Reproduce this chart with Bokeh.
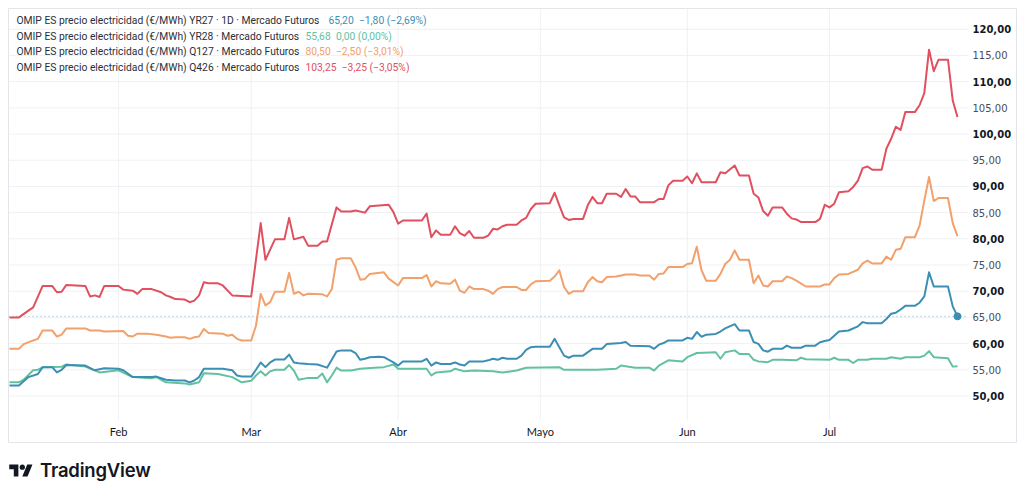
import pandas as pd
from bokeh.plotting import figure
from bokeh.models import Range1d, Label, Div
from bokeh.core.properties import value
from bokeh.layouts import column
from bokeh.embed import file_html
from bokeh.resources import INLINE

YEAR = "2026"

# ---------------- data ----------------
q426_dates = ["01-09","01-11","01-13","01-14","01-16","01-18","01-19","01-20","01-21","01-25","01-26","01-27","01-28","01-29",
              "02-01","02-02","02-04","02-05","02-06","02-08","02-10","02-11","02-12","02-13","02-15","02-16","02-17","02-18","02-19","02-20","02-22","02-23","02-25",
              "03-01","03-03","03-04","03-06","03-08","03-09","03-10","03-12","03-13","03-15","03-16","03-17","03-19","03-20","03-22","03-23","03-25","03-26","03-30","03-31",
              "04-01","04-02","04-06","04-07","04-08","04-09","04-10","04-12","04-13","04-14","04-15","04-16","04-17","04-19","04-20","04-21","04-22","04-23","04-24","04-26","04-27","04-28","04-29","04-30",
              "05-03","05-04","05-05","05-06","05-07","05-08","05-10","05-11","05-12","05-13","05-14","05-15","05-17","05-18","05-19","05-20","05-21","05-22","05-25","05-26","05-27","05-28","05-29","05-31",
              "06-01","06-02","06-03","06-04","06-07","06-08","06-09","06-11","06-12","06-14","06-15","06-16","06-17","06-18","06-19","06-21","06-22","06-23","06-24","06-25","06-28","06-29","06-30",
              "07-01","07-02","07-03","07-05","07-06","07-07","07-08","07-09","07-10","07-12","07-13","07-14","07-15","07-16","07-17","07-19","07-20","07-21","07-22","07-23","07-24","07-26","07-27","07-28"]
q426_values = [65.0,65.0,66.3,66.9,71.0,71.0,69.8,69.9,71.2,71.0,69.0,69.2,68.9,71.0,
               71.0,70.3,70.1,69.5,70.4,70.4,69.8,69.2,68.9,68.5,68.4,67.9,68.2,69.2,71.7,71.5,71.5,71.1,69.2,
               69.0,83.0,76.0,79.9,79.9,84.0,79.9,80.4,78.7,78.7,79.5,79.5,86.0,85.2,85.2,85.4,85.0,86.2,86.5,85.1,
               82.9,83.5,83.5,84.8,80.3,81.6,80.8,80.8,82.4,81.1,80.6,81.5,80.2,80.2,80.6,81.9,81.8,82.4,82.7,82.7,83.5,84.0,85.7,86.7,
               86.8,88.8,86.4,84.1,83.6,83.8,83.8,86.4,88.0,86.8,86.8,88.6,88.6,88.0,89.5,88.1,88.1,87.0,87.0,87.6,87.6,90.2,91.1,91.1,
               91.9,90.6,92.5,90.8,90.8,92.7,92.5,94.0,92.1,92.1,88.6,87.9,85.3,84.4,86.0,86.0,84.8,83.9,83.7,83.2,83.2,83.8,86.5,
               86.0,86.7,88.9,89.1,89.9,91.1,93.5,93.8,93.2,93.2,97.2,99.1,101.4,100.8,104.2,104.2,105.5,107.8,116.1,112.0,114.2,114.2,106.4,103.25]

q127_dates = ["01-09","01-11","01-12","01-14","01-15","01-16","01-18","01-19","01-20","01-21","01-25","01-26","01-28","01-29",
              "02-02","02-03","02-04","02-05","02-07","02-09","02-11","02-12","02-13","02-15","02-16","02-17","02-18","02-19","02-20","02-23","02-24","02-25","02-26","02-27",
              "03-01","03-02","03-03","03-04","03-05","03-06","03-08","03-09","03-10","03-11","03-12","03-13","03-16","03-17","03-18","03-19","03-20","03-22","03-23","03-24","03-25","03-26","03-29","03-30",
              "04-01","04-02","04-06","04-07","04-08","04-09","04-10","04-12","04-13","04-14","04-15","04-16","04-17","04-19","04-20","04-21","04-22","04-23","04-26","04-27","04-28","04-29","04-30",
              "05-03","05-04","05-05","05-06","05-07","05-08","05-10","05-11","05-12","05-13","05-14","05-15","05-17","05-18","05-19","05-21","05-22","05-24","05-25","05-26","05-27","05-28","05-31",
              "06-01","06-02","06-03","06-04","06-05","06-07","06-08","06-09","06-10","06-11","06-12","06-14","06-15","06-16","06-17","06-18","06-19","06-21","06-22","06-23","06-24","06-26","06-29","06-30",
              "07-01","07-02","07-03","07-05","07-07","07-08","07-09","07-10","07-12","07-13","07-14","07-15","07-16","07-17","07-19","07-20","07-21","07-22","07-23","07-24","07-26","07-27","07-28"]
q127_values = [59.0,59.0,59.9,60.6,60.9,62.5,62.5,61.35,61.7,62.9,62.9,62.5,62.5,62.3,
               62.4,61.5,61.35,61.9,61.9,61.7,61.35,61.1,61.2,61.2,60.9,61.2,61.35,62.8,62.0,61.9,61.5,61.7,60.9,60.6,
               60.6,63.4,69.5,67.3,67.9,69.9,69.9,73.5,69.5,69.9,69.2,69.5,69.4,69.0,70.4,76.0,76.3,76.3,74.6,72.2,72.35,73.3,73.6,72.4,
               71.1,72.5,72.5,73.1,70.9,71.9,71.5,71.4,72.2,70.1,69.7,70.9,70.4,70.4,70.1,69.5,70.4,70.8,70.8,70.25,70.25,71.3,71.9,
               72.0,72.8,74.0,70.8,69.5,70.0,70.0,71.7,72.7,71.9,71.7,72.7,72.8,73.0,73.2,73.2,73.0,73.0,72.2,73.3,73.4,74.6,74.6,
               75.2,75.35,78.5,74.0,72.0,72.0,73.3,75.2,76.0,77.8,76.0,76.0,71.5,73.0,71.1,70.9,71.9,71.9,72.8,72.5,72.0,70.9,70.9,71.3,
               71.3,72.5,73.2,73.3,74.1,75.3,75.85,75.3,75.3,76.6,76.0,77.9,78.1,80.3,80.3,82.5,87.3,91.8,87.2,87.8,87.8,83.0,80.5]

yr27_dates = ["01-09","01-11","01-13","01-15","01-16","01-18","01-19","01-20","01-21","01-25","01-27","01-29",
              "02-01","02-02","02-04","02-08","02-09","02-11","02-13","02-15","02-16","02-17","02-18","02-19","02-23","02-25","02-26","02-27",
              "03-01","03-02","03-03","03-04","03-05","03-06","03-08","03-09","03-10","03-11","03-13","03-15","03-17","03-18","03-19","03-20","03-22","03-23","03-24","03-25","03-26","03-28","03-29","03-31",
              "04-01","04-02","04-06","04-07","04-08","04-09","04-10","04-12","04-13","04-14","04-15","04-16","04-19","04-20","04-21","04-22","04-23","04-24","04-26","04-27","04-28","04-29","04-30",
              "05-03","05-04","05-05","05-06","05-07","05-08","05-10","05-12","05-14","05-15","05-18","05-19","05-20","05-24","05-25","05-26","05-27","05-28","05-31",
              "06-01","06-02","06-03","06-04","06-05","06-07","06-08","06-09","06-11","06-12","06-14","06-15","06-16","06-17","06-18","06-19","06-21","06-22","06-23","06-25","06-26","06-28","06-29","06-30",
              "07-01","07-03","07-05","07-07","07-08","07-09","07-12","07-13","07-14","07-15","07-16","07-17","07-19","07-20","07-21","07-22","07-23","07-26","07-27","07-28"]
yr27_values = [52.0,52.0,53.6,54.2,55.5,55.5,54.5,55.0,55.9,55.8,54.9,55.3,
               55.2,54.9,53.6,53.6,53.7,53.1,52.95,52.95,52.6,52.95,53.6,55.2,55.2,54.9,53.9,53.7,
               53.7,55.0,56.4,55.5,56.4,56.95,56.95,57.9,56.4,56.25,56.1,56.0,55.4,56.9,58.5,58.7,58.7,58.2,56.9,57.1,57.4,57.5,57.4,56.4,
               55.8,56.6,56.6,57.1,55.8,56.4,56.1,56.1,56.4,56.0,55.8,56.6,56.6,56.8,57.1,56.9,57.3,57.1,57.1,57.7,58.8,59.3,59.4,
               59.4,60.9,59.3,57.7,57.3,57.7,57.7,59.0,59.0,59.9,60.1,60.3,59.6,59.5,59.0,59.8,60.1,60.6,60.6,
               61.1,60.9,62.2,61.3,61.7,61.85,62.3,62.9,63.7,62.5,62.5,60.3,59.95,58.7,58.45,59.0,59.0,59.6,59.2,59.2,59.6,59.6,60.25,60.5,
               60.7,62.3,62.5,63.3,64.1,63.9,63.9,64.7,65.7,65.9,66.5,67.2,67.2,67.8,69.0,73.6,70.9,70.9,67.1,65.2]

yr28_dates = ["01-09","01-11","01-12","01-14","01-15","01-16","01-20","01-21","01-25","01-28",
              "02-01","02-04","02-08","02-09","02-11","02-15","02-16","02-18","02-19","02-22","02-25","02-27",
              "03-01","03-02","03-03","03-04","03-05","03-06","03-08","03-09","03-10","03-11","03-13","03-15","03-16","03-17","03-18","03-19","03-20","03-22","03-24","03-27","03-29","03-31",
              "04-01","04-07","04-08","04-09","04-12","04-13","04-15","04-17","04-21","04-23","04-26","04-28",
              "05-05","05-06","05-13","05-17","05-18","05-21","05-24","05-25","05-26","05-28","05-31",
              "06-01","06-03","06-07","06-08","06-09","06-11","06-12","06-14","06-15","06-16","06-18","06-19","06-21","06-24","06-25","06-26",
              "07-01","07-02","07-03","07-05","07-06","07-07","07-09","07-10","07-13","07-14","07-16","07-17","07-20","07-21","07-22","07-23","07-26","07-27","07-28"]
yr28_values = [52.6,52.6,53.1,54.9,55.0,55.5,55.6,56.0,55.6,54.5,
               54.9,53.6,53.4,53.6,52.6,52.4,52.2,52.6,54.35,54.2,53.6,52.6,
               52.9,53.9,54.7,53.9,54.7,55.0,55.0,55.9,54.85,53.1,53.45,53.45,54.3,52.6,53.9,55.4,54.85,54.85,55.2,55.4,55.5,56.0,
               55.2,55.2,53.9,54.5,54.7,55.2,54.7,54.85,54.7,54.5,54.85,55.4,
               55.5,55.0,55.0,55.2,55.8,55.4,55.4,54.85,55.8,56.8,56.6,
               57.4,58.2,58.35,57.1,58.35,58.7,58.0,58.0,56.9,56.6,56.45,56.9,56.9,56.8,57.3,57.0,
               56.9,57.3,56.9,56.9,56.3,56.9,56.9,57.1,57.1,57.4,57.1,57.4,57.4,57.7,58.55,57.4,57.2,55.6,55.68]

series_names = ["OMIP ES precio electricidad (€/MWh) YR27 · 1D · Mercado Futuros",
                "OMIP ES precio electricidad (€/MWh) YR28 · Mercado Futuros",
                "OMIP ES precio electricidad (€/MWh) Q127 · Mercado Futuros",
                "OMIP ES precio electricidad (€/MWh) Q426 · Mercado Futuros"]
series_quotes = ["65,20\u2002\u22121,80 (\u22122,69%)",
                 "55,68\u20020,00 (0,00%)",
                 "80,50\u2002\u22122,50 (\u22123,01%)",
                 "103,25\u2002\u22123,25 (\u22123,05%)"]
series_colors = ["#3b8fb3", "#63c1a0", "#f2a06c", "#e0505f"]

month_starts = ["02-01", "03-01", "04-01", "05-01", "06-01", "07-01"]
month_labels = ["Feb", "Mar", "Abr", "Mayo", "Jun", "Jul"]
price_ticks = [50, 55, 60, 65, 70, 75, 80, 85, 90, 95, 100, 105, 110, 115, 120]


# ---------------- helpers ----------------
def ts(md):
    return pd.Timestamp(f"{YEAR}-{md}")


def fmt(v):
    return f"{v:.2f}".replace(".", ",")


# page geometry (pixels) -> data coordinates
BASE = ts("02-01")
X0_PX, PX_PER_DAY = 118.0, 4.74      # Feb 1 position, px per day
Y120_PX, PX_PER_UNIT = 28.8, 5.238   # 120,00 position, px per price unit


def x_at(px):
    return BASE + pd.Timedelta(days=(px - X0_PX) / PX_PER_DAY)


def y_at(px):
    return 120 - (px - Y120_PX) / PX_PER_UNIT


FIG_W, FIG_H = 1024, 443
L, R, T, B = 8, 1016, 8, 443          # chart box (frame) in page px
PANE_RIGHT = 968                       # end of the price pane
PANE_BOTTOM = 420                      # end of the price pane

p = figure(width=FIG_W, height=FIG_H, x_axis_type="datetime",
           x_axis_location=None, y_axis_location=None,
           x_range=Range1d(x_at(L), x_at(R)), y_range=Range1d(y_at(B), y_at(T)),
           output_backend="svg", toolbar_location=None,
           min_border_left=L, min_border_right=FIG_W - R, min_border_top=T, min_border_bottom=0)
p.background_fill_color = "white"
p.border_fill_color = "white"
p.outline_line_color = "#e3e5ea"
p.outline_line_width = 1
p.xgrid.visible = False
p.ygrid.visible = False

GRID = "#f0f1f4"
# horizontal grid lines every 5
p.segment(x0=[x_at(L)] * len(price_ticks), x1=[x_at(PANE_RIGHT)] * len(price_ticks),
          y0=price_ticks, y1=price_ticks, line_color=GRID, line_width=1)
# vertical grid lines at month starts
mdates = [ts(m) for m in month_starts]
p.segment(x0=mdates, x1=mdates, y0=[y_at(T)] * len(mdates), y1=[y_at(PANE_BOTTOM)] * len(mdates),
          line_color=GRID, line_width=1)

# month labels
p.text(x=mdates, y=[y_at(431)] * len(mdates), text=month_labels,
       text_font=value("Lato"), text_font_size="11px", text_color="#131722",
       text_align="center", text_baseline="middle")

# price scale labels: bold every 10, regular every 5
major = [v for v in price_ticks if v % 10 == 0]
minor = [v for v in price_ticks if v % 10 != 0]
p.text(x=[x_at(972)] * len(major), y=major, text=[fmt(v) for v in major],
       text_font=value("DejaVu Sans"), text_font_size="10px", text_font_style="bold",
       text_color="#131722", text_align="left", text_baseline="middle")
p.text(x=[x_at(972)] * len(minor), y=minor, text=[fmt(v) for v in minor],
       text_font=value("DejaVu Sans"), text_font_size="10px",
       text_color="#4a4d57", text_align="left", text_baseline="middle")

# last price dotted line
p.segment(x0=[x_at(L)], x1=[x_at(PANE_RIGHT)], y0=[yr27_values[-1]], y1=[yr27_values[-1]],
          line_color="#7fb3c9", line_dash="1 3", line_width=1)

# series
all_series = [
    (yr28_dates, yr28_values, series_colors[1]),
    (yr27_dates, yr27_values, series_colors[0]),
    (q127_dates, q127_values, series_colors[2]),
    (q426_dates, q426_values, series_colors[3]),
]
for d, v, c in all_series:
    p.line([ts(x) for x in d], v, line_color=c, line_width=2, line_join="round")

p.scatter([ts(yr27_dates[-1])], [yr27_values[-1]], size=7, color=series_colors[0])

# legend (top-left); screen x is measured from the frame's left edge
row_y = [20, 35.5, 51, 66.5]
quote_x = [328, 305, 305, 305]
for name, quote, col, ry, qx in zip(series_names, series_quotes, series_colors, row_y, quote_x):
    p.add_layout(Label(x=16 - L, y=y_at(ry), x_units="screen", y_units="data", text=name,
                       text_font="Roboto", text_font_size="10.3px", text_color="#2a2e39",
                       text_align="left", text_baseline="middle"))
    p.add_layout(Label(x=qx - L, y=y_at(ry), x_units="screen", y_units="data", text=quote,
                       text_font="Roboto", text_font_size="10.3px", text_color=col,
                       text_align="left", text_baseline="middle"))

logo = Div(text=('<div style="display:flex;align-items:center;gap:7px;margin:9px 0 0 4px;'
                 'font-family:Inter;font-weight:600;font-size:18.5px;color:#131722;letter-spacing:-0.2px">'
                 '<svg width="24" height="17" viewBox="0 0 36 26">'
                 '<path d="M14 22H7V11H0V4h14v18zM28 22h-8l7.5-18h8L28 22z" fill="#131722"/>'
                 '<circle cx="20" cy="8" r="4" fill="#131722"/></svg>'
                 '<span>TradingView</span></div>'),
           width=FIG_W, height=44)

layout = column(p, logo, spacing=0)
open("out.html", "w").write(file_html(layout, INLINE))
